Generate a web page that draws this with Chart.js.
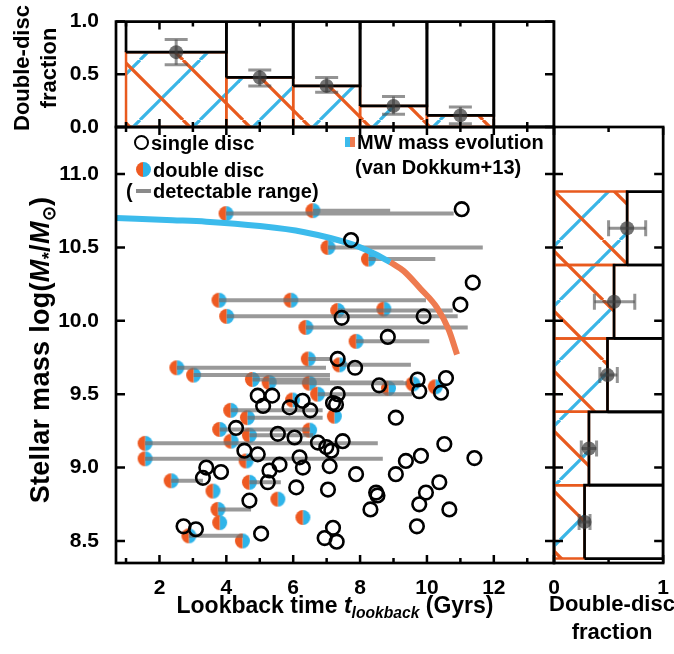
<!DOCTYPE html>
<html>
<head>
<meta charset="utf-8">
<script src="https://cdn.jsdelivr.net/npm/chart.js@4.4.0/dist/chart.umd.min.js"></script>
<style>
  html, body { margin: 0; padding: 0; background: #fff; }
  #wrap { position: relative; width: 674px; height: 654px; overflow: hidden;
          font-family: "Liberation Sans", Arial, sans-serif; font-weight: bold; color: #000; }
  #wrap canvas { position: absolute; left: 0; top: 0; }
  .lbl { position: absolute; white-space: nowrap; font-size: 20px; line-height: 20px; }
  .ttl { position: absolute; white-space: nowrap; transform: translate(-50%, -50%); text-align: center; }
  .rot { transform: translate(-50%, -50%) rotate(-90deg); }
  .sub { font-size: 0.68em; position: relative; top: 0.3em; }
</style>
</head>
<body>
<div id="wrap">
  <canvas id="mainChart" width="674" height="654"></canvas>
  <canvas id="topChart" width="674" height="654"></canvas>
  <canvas id="rightChart" width="674" height="654"></canvas>

  <!-- legend -->
  <span class="lbl" style="left:134px;top:135px;width:15px;height:15px;box-sizing:border-box;border:2.6px solid #000;border-radius:50%;"></span>
  <span class="lbl" style="left:151px;top:133px;">single disc</span>
  <span class="lbl" style="left:136px;top:162px;width:15px;height:15px;border-radius:50%;background:linear-gradient(to right,#ee5a22 50%,#2fb4e9 50%);"></span>
  <span class="lbl" style="left:153px;top:160px;">double disc</span>
  <span class="lbl" style="left:126px;top:181px;">(</span>
  <span class="lbl" style="left:136px;top:189px;width:15px;height:4px;background:#8a8a8a;"></span>
  <span class="lbl" style="left:153px;top:181px;">detectable range)</span>
  <span class="lbl" style="left:345px;top:137px;width:10px;height:10px;background:linear-gradient(to right,#3cbbec 50%,#ee7b50 50%);"></span>
  <span class="lbl" style="left:357px;top:132px;">MW mass evolution</span>
  <span class="lbl" style="left:355px;top:157px;">(van Dokkum+13)</span>

  <!-- axis titles -->
  <div class="ttl rot" style="left:35px;top:68px;font-size:22px;line-height:27px;">Double-disc<br>fraction</div>
  <div class="ttl rot" style="left:40px;top:350px;font-size:27px;letter-spacing:0.3px;">Stellar mass log(<i>M</i><span class="sub">*</span>/<i>M</i><span class="sub">⊙</span>)</div>
  <div class="ttl" style="left:335px;top:605px;font-size:23px;">Lookback time <i>t</i><span class="sub"><i>lookback</i></span> (Gyrs)</div>
  <div class="ttl" style="left:612px;top:618px;font-size:22px;line-height:28px;">Double-disc<br>fraction</div>
</div>

<script>
// single-disc galaxies: lookback time (Gyr), log stellar mass
const singleT = [11.04, 7.73, 11.37, 11.0, 9.9, 7.45, 8.83, 7.33, 7.85, 8.57, 9.72, 9.77, 10.57, 10.42,
  7.33, 7.28, 9.07, 4.94, 5.37, 5.10, 5.89, 6.28, 6.51, 7.19, 4.29, 5.54, 6.04, 6.74, 6.99, 7.14, 7.48,
  4.54, 4.94, 5.59, 5.29, 6.19, 6.29, 7.09, 3.40, 3.84, 3.30, 5.24, 6.09, 7.04, 4.69, 2.72, 3.09, 5.04,
  6.94, 7.19, 7.30, 10.52, 11.42, 9.82, 9.37, 9.07, 7.88, 10.37, 9.97, 8.48, 8.52, 8.31, 9.77, 10.67, 9.70];
const singleM = [10.76, 10.55, 10.26, 10.11, 10.03, 10.02, 9.89, 9.74, 9.68, 9.56, 9.60, 9.52, 9.61, 9.51,
  9.50, 9.43, 9.34, 9.49, 9.49, 9.42, 9.41, 9.455, 9.39, 9.44, 9.27, 9.23, 9.205, 9.17, 9.14, 9.115, 9.18,
  9.115, 9.09, 9.02, 8.98, 9.07, 9.00, 9.01, 9.00, 8.97, 8.93, 8.90, 8.865, 8.85, 8.775, 8.60, 8.58, 8.55,
  8.52, 8.59, 8.495, 9.16, 9.065, 9.08, 9.045, 8.955, 8.955, 8.90, 8.83, 8.83, 8.81, 8.715, 8.75, 8.715, 8.60];

// double-disc galaxies, and the far end of their detectable range (null = none drawn)
const doubleT = [3.99, 6.59, 7.04, 8.25, 3.78, 5.93, 7.33, 8.71, 4.01, 6.38, 7.88, 6.45, 7.38, 2.52,
  3.02, 4.78, 5.28, 6.48, 6.73, 8.85, 9.58, 10.25, 7.23, 5.98, 4.13, 4.63, 3.80, 4.69, 6.49, 4.14,
  1.57, 1.57, 4.59, 4.69, 2.35, 3.60, 5.54, 3.75, 3.80, 6.29, 2.88, 4.48];
const doubleM = [10.73, 10.75, 10.50, 10.42, 10.14, 10.14, 10.07, 10.08, 10.03, 9.955, 9.86, 9.74, 9.70, 9.68,
  9.63, 9.60, 9.58, 9.575, 9.50, 9.54, 9.57, 9.55, 9.35, 9.46, 9.39, 9.34, 9.26, 9.22, 9.255, 9.18,
  9.165, 9.06, 9.045, 8.90, 8.91, 8.84, 8.785, 8.715, 8.625, 8.66, 8.535, 8.50];
const doubleEnd = [10.8, 8.9, 11.67, 10.25, 7.13, 9.97, 10.77, null, 10.92, 11.22, 10.07, 7.1, 9.52, 6.98,
  7.1, 7.1, 9.3, 9.4, 9.55, null, null, null, null, null, 6.88, 6.88, 6.5, 6.6, null, null,
  8.53, 8.68, null, 5.63, 3.30, null, null, 4.74, null, null, 4.5, null];

// MW progenitor mass track (van Dokkum+13), blue before mwSplit, orange after
const mwT = [0.7, 1.3, 2.4, 3.4, 5.0, 6.3, 7.7, 8.4, 8.9, 9.3, 9.8, 10.3, 10.65, 10.9];
const mwM = [10.70, 10.695, 10.685, 10.675, 10.645, 10.605, 10.525, 10.46, 10.40, 10.34, 10.22, 10.09, 9.94, 9.77];
const mwSplit = 8.9;

// double-disc fraction in lookback-time bins
const tBinEdges = [1, 4, 6, 8, 10, 12, 13.8];
const tFrac = [0.71, 0.47, 0.39, 0.20, 0.11, 0];
const tFracLo = [0.59, 0.39, 0.33, 0.12, 0.03];
const tFracHi = [0.83, 0.54, 0.47, 0.29, 0.19];

// double-disc fraction in mass bins
const mBinEdges = [8.38, 8.88, 9.38, 9.88, 10.38, 10.88];
const mFrac = [0.28, 0.32, 0.49, 0.55, 0.67];
const mFracLo = [0.23, 0.25, 0.42, 0.37, 0.50];
const mFracHi = [0.33, 0.39, 0.58, 0.74, 0.84];

const tickFont = { family: 'Liberation Sans', size: 21, weight: 'bold' };
const hatchBlue = '#3ab5e6', hatchOrange = '#e85a1e';
const errGray = 'rgba(75,75,75,0.6)', dotGray = 'rgba(55,55,55,0.7)';

// diagonal cross hatch: orange "\" and blue "/"
function makeHatch() {
  const s = 60;
  const c = document.createElement('canvas');
  c.width = s; c.height = s;
  const g = c.getContext('2d');
  g.lineWidth = 3.2;
  g.strokeStyle = hatchBlue;
  for (let k = -2; k <= 2; k++) {
    g.beginPath(); g.moveTo(20 + s * k, 0); g.lineTo(20 + s * k - s, s); g.stroke();
  }
  g.strokeStyle = hatchOrange;
  for (let k = -2; k <= 2; k++) {
    g.beginPath(); g.moveTo(3 + s * k, 0); g.lineTo(3 + s * k + s, s); g.stroke();
  }
  return g.createPattern(c, 'repeat');
}
const hatch = makeHatch();

// half orange / half blue marker
function splitDot(r) {
  const c = document.createElement('canvas');
  c.width = c.height = 2 * r + 2;
  const g = c.getContext('2d');
  g.fillStyle = '#2fb4e9';
  g.beginPath(); g.arc(r + 1, r + 1, r, -Math.PI / 2, Math.PI / 2); g.fill();
  g.fillStyle = '#ee5a22';
  g.beginPath(); g.arc(r + 1, r + 1, r, Math.PI / 2, Math.PI * 1.5); g.fill();
  return c;
}

// frame + inward tick marks on all four sides
const frameTicks = {
  id: 'frameTicks',
  afterDatasetsDraw(chart, args, opts) {
    const { ctx, chartArea: a } = chart;
    const { x, y } = chart.scales;
    const major = (v, step) => !step || Math.abs(v / step - Math.round(v / step)) < 1e-6;
    ctx.save();
    ctx.strokeStyle = '#000';
    ctx.lineWidth = 2.5;
    ctx.beginPath();
    x.ticks.forEach(t => {
      const p = x.getPixelForValue(t.value);
      const len = major(t.value, opts.xMajor) ? 8 : 5;
      ctx.moveTo(p, a.bottom); ctx.lineTo(p, a.bottom - len);
      ctx.moveTo(p, a.top); ctx.lineTo(p, a.top + len);
    });
    y.ticks.forEach(t => {
      const p = y.getPixelForValue(t.value);
      ctx.moveTo(a.left, p); ctx.lineTo(a.left + 9, p);
      ctx.moveTo(a.right, p); ctx.lineTo(a.right - 9, p);
    });
    ctx.stroke();
    ctx.lineWidth = 2.7;
    ctx.strokeRect(a.left, a.top, a.right - a.left, a.bottom - a.top);
    ctx.restore();
  }
};

const fixSize = px => s => { if (s.isHorizontal()) s.height = px; else s.width = px; };

function baseOptions(padding, scales, xMajor) {
  return {
    responsive: false,
    animation: false,
    events: [],
    layout: { autoPadding: false, padding },
    plugins: { legend: { display: false }, tooltip: { enabled: false }, frameTicks: { xMajor } },
    scales
  };
}

function axis(min, max, step, size, showLabels, callback, padding) {
  return {
    type: 'linear', min, max,
    afterFit: fixSize(size),
    grid: { display: false },
    border: { display: false },
    ticks: {
      display: showLabels, stepSize: step, includeBounds: false, autoSkip: false, maxRotation: 0,
      padding: padding, color: '#000', font: tickFont, callback
    }
  };
}

// ---------- main scatter panel ----------
const rangeData = [];
doubleT.forEach((t, i) => {
  if (doubleEnd[i] === null) return;
  rangeData.push({ x: t, y: doubleM[i] }, { x: doubleEnd[i], y: doubleM[i] }, { x: doubleEnd[i], y: null });
});
const mwBlue = [], mwOrange = [];
mwT.forEach((t, i) => {
  if (t <= mwSplit) mwBlue.push({ x: t, y: mwM[i] });
  if (t >= mwSplit) mwOrange.push({ x: t, y: mwM[i] });
});

new Chart(document.getElementById('mainChart'), {
  type: 'scatter',
  data: {
    datasets: [
      { data: singleT.map((t, i) => ({ x: t, y: singleM[i] })), pointStyle: 'circle', pointRadius: 6.8,
        pointBorderWidth: 2.6, pointBorderColor: '#000', pointBackgroundColor: 'rgba(0,0,0,0)', order: 1 },
      { data: mwBlue, showLine: true, borderColor: '#3cbbec', borderWidth: 6, pointRadius: 0,
        cubicInterpolationMode: 'monotone', order: 3 },
      { data: mwOrange, showLine: true, borderColor: '#ee7b50', borderWidth: 6, pointRadius: 0,
        cubicInterpolationMode: 'monotone', order: 3 },
      { data: rangeData, showLine: true, borderColor: 'rgba(110,110,110,0.7)', borderWidth: 4,
        pointRadius: 0, spanGaps: false, order: 4 },
      { data: doubleT.map((t, i) => ({ x: t, y: doubleM[i] })), pointStyle: splitDot(7.5), order: 5 }
    ]
  },
  options: baseOptions({ left: 0, right: 120, top: 127, bottom: 51 }, {
    x: axis(0.7, 13.8, 1, 40, true, v => Math.round(v) % 2 === 0 ? Math.round(v) : '', 5),
    y: axis(8.35, 11.32, 0.5, 116, true, v => v.toFixed(1), 9)
  }, 2),
  plugins: [frameTicks]
});

// ---------- top panel: fraction vs lookback time ----------
const topSets = [];
tFrac.forEach((f, i) => {
  const a = tBinEdges[i], b = tBinEdges[i + 1];
  if (f > 0) {
    topSets.push({ data: [{ x: a, y: 0 }, { x: a, y: f }, { x: b, y: f }, { x: b, y: 0 }, { x: a, y: 0 }],
      showLine: true, fill: 'shape', backgroundColor: hatch, borderColor: hatchOrange, borderWidth: 2.5,
      pointRadius: 0, order: 6 });
  }
  topSets.push({ data: [{ x: a, y: f }, { x: a, y: 1 }, { x: b, y: 1 }, { x: b, y: f }, { x: a, y: f }],
    showLine: true, fill: false, borderColor: '#000', borderWidth: 2.7, pointRadius: 0, order: 5 });
});
const tMid = tFracLo.map((_, i) => (tBinEdges[i] + tBinEdges[i + 1]) / 2);
topSets.push(
  { data: tMid.flatMap((m, i) => [{ x: m, y: tFracLo[i] }, { x: m, y: tFracHi[i] }, { x: m, y: null }]),
    showLine: true, borderColor: errGray, borderWidth: 3, pointRadius: 0, order: 2 },
  { data: tMid.flatMap((m, i) => [{ x: m, y: tFracLo[i] }, { x: m, y: tFracHi[i] }]),
    pointStyle: 'line', pointRadius: 11.5, pointBorderWidth: 3, pointBorderColor: errGray, order: 2 },
  { data: tMid.map((m, i) => ({ x: m, y: tFrac[i] })), pointRadius: 7, pointBorderWidth: 0,
    pointBackgroundColor: dotGray, order: 1 }
);

new Chart(document.getElementById('topChart'), {
  type: 'scatter',
  data: { datasets: topSets },
  options: baseOptions({ left: 0, right: 120, top: 20, bottom: 527 }, {
    x: axis(0.7, 13.8, 1, 0, false, v => v, 0),
    y: axis(0, 1, 0.5, 116, true, v => v.toFixed(1), 9)
  }, 2),
  plugins: [frameTicks]
});

// ---------- right panel: fraction vs stellar mass ----------
const rightSets = [];
mFrac.forEach((f, i) => {
  const a = mBinEdges[i], b = mBinEdges[i + 1];
  rightSets.push({ data: [{ x: 0, y: a }, { x: f, y: a }, { x: f, y: b }, { x: 0, y: b }, { x: 0, y: a }],
    showLine: true, fill: 'shape', backgroundColor: hatch, borderColor: hatchOrange, borderWidth: 2.5,
    pointRadius: 0, order: 6 });
  rightSets.push({ data: [{ x: f, y: a }, { x: 1, y: a }, { x: 1, y: b }, { x: f, y: b }, { x: f, y: a }],
    showLine: true, fill: false, borderColor: '#000', borderWidth: 2.7, pointRadius: 0, order: 5 });
});
const mMid = mFrac.map((_, i) => (mBinEdges[i] + mBinEdges[i + 1]) / 2);
rightSets.push(
  { data: mMid.flatMap((m, i) => [{ x: mFracLo[i], y: m }, { x: mFracHi[i], y: m }, { x: null, y: m }]),
    showLine: true, borderColor: errGray, borderWidth: 3, pointRadius: 0, order: 2 },
  { data: mMid.flatMap((m, i) => [{ x: mFracLo[i], y: m }, { x: mFracHi[i], y: m }]),
    pointStyle: 'line', pointRadius: 8, pointRotation: 90, pointBorderWidth: 3, pointBorderColor: errGray, order: 2 },
  { data: mMid.map((m, i) => ({ x: mFrac[i], y: m })), pointRadius: 7, pointBorderWidth: 0,
    pointBackgroundColor: dotGray, order: 1 }
);

new Chart(document.getElementById('rightChart'), {
  type: 'scatter',
  data: { datasets: rightSets },
  options: baseOptions({ left: 554, right: 8, top: 127, bottom: 51 }, {
    x: axis(0, 1, 0.5, 40, true, v => (v === 0 || v === 1) ? v : '', 5),
    y: axis(8.35, 11.32, 0.5, 0, false, v => v, 0)
  }, 1),
  plugins: [frameTicks]
});
</script>
</body>
</html>
